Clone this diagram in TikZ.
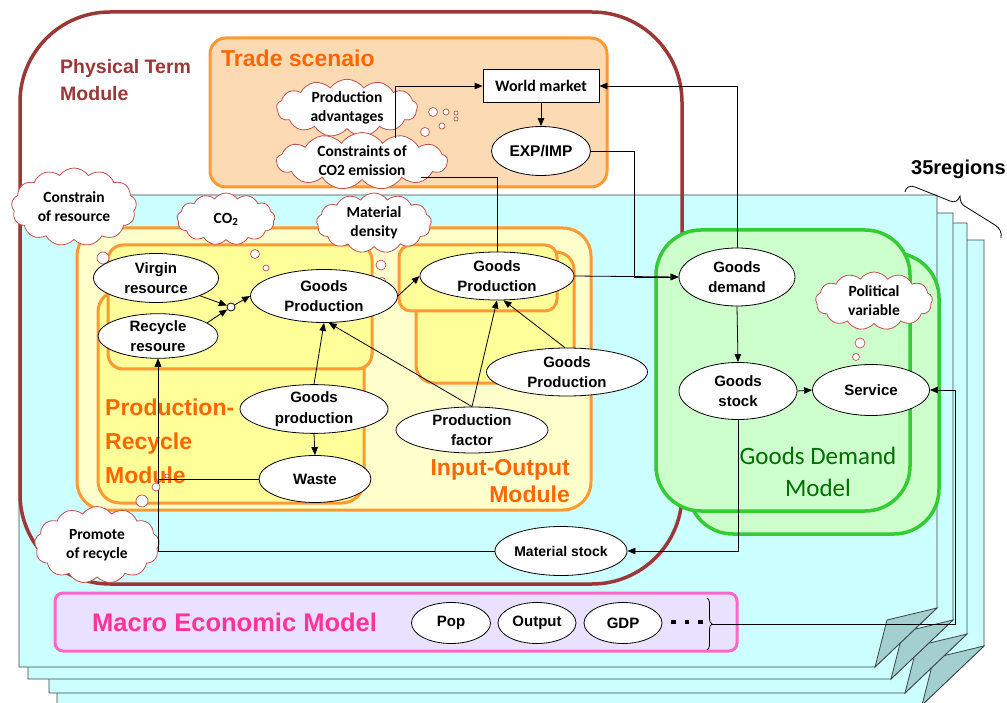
\documentclass[tikz,border=0pt]{standalone}
\usepackage{fontspec}
\setmainfont{Liberation Sans}
\newfontfamily\calfont{Carlito}
\usetikzlibrary{shapes.geometric,shapes.symbols,arrows.meta,decorations.pathreplacing}

\definecolor{physc}{RGB}{155,55,55}
\definecolor{orgline}{RGB}{255,153,51}
\definecolor{orgtext}{RGB}{255,102,0}
\definecolor{tradefill}{RGB}{252,218,180}
\definecolor{iofill}{RGB}{255,255,204}
\definecolor{prfill}{RGB}{255,255,153}
\definecolor{cyanpg}{RGB}{204,255,255}
\definecolor{flapc}{RGB}{163,207,207}
\definecolor{grfill}{RGB}{204,255,204}
\definecolor{grline}{RGB}{51,204,51}
\definecolor{grtext}{RGB}{0,110,0}
\definecolor{macfill}{RGB}{234,224,255}
\definecolor{macline}{RGB}{255,102,204}
\definecolor{mactext}{RGB}{255,51,153}
\definecolor{cloudline}{RGB}{192,80,77}
\definecolor{pagegray}{RGB}{60,70,70}

\newcommand{\elfont}{\bfseries\fontsize{15}{20.5}\selectfont}
\newcommand{\cldfont}{\calfont\bfseries\fontsize{15.5}{19}\selectfont}
\newcommand{\regionpage}[4]{%
  \draw[pageline, fill=cyanpg] (#1,#2) -- (#3,#2) -- (#3,{#4-59}) -- ({#3-62},#4) -- (#1,#4) -- cycle;
  \draw[pageline, fill=flapc] (#3,{#4-59}) -- ({#3-50},{#4-47}) -- ({#3-62},#4) -- cycle;}

\begin{document}
\begin{tikzpicture}[x=1pt,y=-1pt,
  pageline/.style={draw=pagegray, line width=0.8pt},
  sz/.style 2 args={minimum width=#1pt, minimum height=#2pt},
  el/.style={ellipse, draw, fill=white, line width=0.8pt, inner sep=0pt, align=center, font=\elfont},
  cld/.style={cloud, cloud puffs=13, cloud puff arc=110, cloud ignores aspect, draw=cloudline, fill=white, line width=0.8pt, inner sep=0pt, align=center, font=\cldfont},
  bub/.style={draw=cloudline, fill=white, line width=0.7pt},
  orgbox/.style={draw=orgline, line width=3pt},
  grbox/.style={draw=grline, fill=grfill, line width=3.5pt, rounded corners=45pt},
  arr/.style={-{Triangle[length=8pt,width=6.5pt]}, line width=0.8pt},
  ln/.style={line width=0.8pt},
  orglabel/.style={text=orgtext, font=\bfseries\fontsize{23}{28}\selectfont, inner sep=0pt}
]
\useasboundingbox[fill=white] (0,0) rectangle (1007,703);

% stacked region pages
\regionpage{57}{240}{984}{705}
\regionpage{49}{223}{967}{693}
\regionpage{28}{213}{953}{679}
\regionpage{19}{195}{937}{667}

% 35 regions label and brace
\node[anchor=base west, inner sep=0pt, font=\bfseries\fontsize{20}{24}\selectfont] (regl) at (911,175) {35regions};
\draw[line width=0.8pt] (905,192) .. controls (906,187) and (910,185) .. (915,187) -- (950,201) .. controls (955,203) and (958,201) .. (960,196) .. controls (960,202) and (962,205) .. (966,207) -- (995,225) .. controls (1000,228) and (1002,233) .. (1001,238);

% physical term module
\draw[draw=physc, line width=3.5pt, rounded corners=90pt] (20,12) rectangle (682,584);
\node[anchor=base west, inner sep=0pt, text=physc, font=\bfseries\fontsize{19.5}{24}\selectfont] (ph1) at (60,74) {Physical Term};
\node[anchor=base west, inner sep=0pt, text=physc, font=\bfseries\fontsize{19.5}{24}\selectfont] (ph2) at (60,101) {Module};

% trade scenario
\draw[orgbox, fill=tradefill, rounded corners=16pt] (210,38) rectangle (607,187);
\node[anchor=base west, orglabel] (trl) at (221,67) {Trade scenaio};

% input-output module
\draw[orgbox, fill=iofill, rounded corners=28pt] (77,228) rectangle (591,510);
\draw[orgbox, fill=prfill, rounded corners=22pt] (98,290) rectangle (364,503);
\draw[orgbox, fill=prfill, rounded corners=15pt] (108,245) rectangle (372,369);
\draw[orgbox, fill=prfill, rounded corners=18pt] (416,252) rectangle (574,383);
\draw[orgbox, fill=prfill, rounded corners=12pt] (399,245) rectangle (557,311);
\node[anchor=base west, orglabel] (pr1) at (105,415) {Production-};
\node[anchor=base west, orglabel] (pr2) at (105,449) {Recycle};
\node[anchor=base west, orglabel] (pr3) at (105,483) {Module};
\node[anchor=base east, orglabel] (io1) at (570,475) {Input-Output};
\node[anchor=base east, orglabel] (io2) at (570,502) {Module};

% goods demand model
\draw[grbox] (688,253) rectangle (939,534);
\draw[grbox] (656,230) rectangle (910,511);
\node[anchor=base, inner sep=0pt, text=grtext, font=\calfont\fontsize{25}{30}\selectfont] (gdm1) at (818,464) {Goods Demand};
\node[anchor=base, inner sep=0pt, text=grtext, font=\calfont\fontsize{25}{30}\selectfont] (gdm2) at (818,496) {Model};

% macro economic model
\draw[draw=macline, fill=macfill, line width=3pt, rounded corners=8pt] (55,593) rectangle (737,651);
\node[anchor=base west, inner sep=0pt, text=mactext, font=\bfseries\fontsize{25.5}{30}\selectfont] (mel) at (92,631) {Macro Economic Model};

% clouds
\node[cld, sz={141}{54}] (cprod) at (347,108) {Production\\advantages};
\node[cld, sz={171}{50}] (cco2e) at (362,161) {Constraints of\\CO2 emission};
\node[cld, sz={125}{78}] (cres) at (74,207) {Constrain\\of resource};
\node[cld, sz={98}{52}] (cco2) at (226,219) {CO\textsubscript{2}};
\node[cld, sz={115}{60}] (cmat) at (374,223) {Material\\density};
\node[cld, sz={117}{58}] (cpol) at (874,301) {Political\\variable};
\node[cld, sz={125}{77}] (cprom) at (97,545) {Promote\\of recycle};

% thought bubbles
\draw[bub] (433,112) circle (4.5) (446,112) circle (3) (456,113) circle (2) (456,119) circle (2) (442,126) circle (3) (425,132) circle (4.5);
\draw[bub] (103,258) circle (6) (112,271) circle (5) (117,280) circle (2.5);
\draw[bub] (255,254) circle (4.5) (266,268) circle (3) (275,279) circle (1.5);
\draw[bub] (381,265) circle (5) (382,281) circle (3.5) (384,295) circle (2);
\draw[bub] (860,343) circle (5) (856,357) circle (3.5) (851,369) circle (2);

% trade nodes
\node[draw, fill=white, line width=0.8pt, sz={116}{33}, font=\calfont\bfseries\fontsize{16}{19}\selectfont] (wm) at (541,86) {World market};
\node[el, sz={99}{49}, font=\bfseries\fontsize{15.5}{19}\selectfont] (exp) at (541,151) {EXP/IMP};

% production-recycle nodes
\node[el, sz={125}{49}] (vir) at (156,278) {Virgin\\resource};
\node[el, sz={120}{44}] (rec) at (158,336) {Recycle\\resoure};
\node[circle, draw, fill=white, line width=0.8pt, minimum size=8pt, inner sep=0pt] (jn) at (231,307) {};
\node[el, sz={147}{53}] (gp1) at (324,296) {Goods\\Production};
\node[el, sz={148}{46}] (gpl) at (314,409) {Goods\\production};
\node[el, sz={112}{47}] (waste) at (315,479) {Waste};

% input-output nodes
\node[el, sz={154}{48}] (gp2) at (497,276) {Goods\\Production};
\node[el, sz={161}{48}] (gp3) at (567,372) {Goods\\Production};
\node[el, sz={152}{46}] (pf) at (472,430) {Production\\factor};

% goods demand nodes
\node[el, sz={116}{58}] (gd) at (737,277) {Goods\\demand};
\node[el, sz={118}{57}] (gs) at (738,391) {Goods\\stock};
\node[el, sz={117}{51}] (svc) at (871,390) {Service};
\node[el, sz={124}{49}, font=\bfseries\fontsize{14}{18}\selectfont] (ms) at (561,551) {Material stock};

% macro nodes
\node[el, sz={79}{41}] (pop) at (451,623) {Pop};
\node[el, sz={78}{41}] (outp) at (537,623) {Output};
\node[el, sz={78}{41}] (gdp) at (623,623) {GDP};
\node[inner sep=0pt] (dots) at (687,622) {\rule{4.5pt}{4.5pt}\hspace{9pt}\rule{4.5pt}{4.5pt}\hspace{9pt}\rule{4.5pt}{4.5pt}};
\draw[decorate, decoration={brace, amplitude=5pt}, line width=0.8pt] (707,598) -- (707,650);

% helper coordinates
\coordinate (c1) at (395,138);
\coordinate (c2) at (421,177);
\coordinate (j1) at (634,277);
\coordinate (bt) at (712,624);
\coordinate (j3) at (955,390);

% connectors
\draw[arr] (c1) |- (wm.west);
\draw[arr] (gd.north) |- (wm.east);
\draw[arr] (wm.south) -- (exp.north);
\draw[arr] (exp.east) -| (j1) -- (gd.west);
\draw[arr] (gp2.east) -- (gd.west);
\draw[ln] (c2) -| (gp2.north);
\draw[arr] (vir.-22) -- (jn);
\draw[arr] (rec.15) -- (jn);
\draw[arr] (jn) -- (gp1.west);
\draw[arr] (gpl.north) -- (gp1.south);
\draw[arr] (gpl.south) -- (waste.north);
\draw[arr] (waste.west) -| (rec.south);
\draw[arr] (ms.west) -| (rec.south);
\draw[arr] (pf.north) -- (gp2.south);
\draw[arr] (pf.north) -- (gp1.-80);
\draw[arr] (gp3.95) -- (gp2.-75);
\draw[arr] (gp1.east) -- (gp2.west);
\draw[arr] (gd.south) -- (gs.north);
\draw[arr] (gs.east) -- (svc.west);
\draw[arr] (gs.south) |- (ms.east);
\draw[arr] (bt) -| (j3) -- (svc.east);

% promote bubbles on top of line
\draw[bub] (142,501) circle (6) (156,487) circle (4) (167,476) circle (2);
\end{tikzpicture}
\end{document}
